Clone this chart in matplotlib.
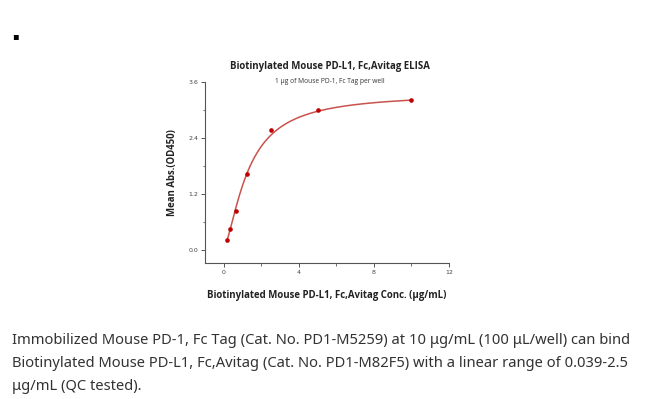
import numpy as np
import matplotlib
matplotlib.use('Agg')
import matplotlib.pyplot as plt
from matplotlib.ticker import MultipleLocator

# data
conc = [0.156, 0.3125, 0.625, 1.25, 2.5, 5.0, 10.0]        # ug/mL
od450 = [0.21, 0.44, 0.83, 1.62, 2.56, 3.00, 3.20]          # mean abs

# 4PL fit parameters (bottom, top, EC50, hill) estimated from the drawn curve
fit_bottom, fit_top, fit_ec50, fit_hill = 0.05, 3.35, 1.3, 1.5

title = 'Biotinylated Mouse PD-L1, Fc,Avitag ELISA'
subtitle = '1 \u03bcg of Mouse PD-1, Fc Tag per well'
xlab = 'Biotinylated Mouse PD-L1, Fc,Avitag Conc. (\u03bcg/mL)'
ylab = 'Mean Abs.(OD450)'
caption = ['Immobilized Mouse PD-1, Fc Tag (Cat. No. PD1-M5259) at 10 \u03bcg/mL (100 \u03bcL/well) can bind',
           'Biotinylated Mouse PD-L1, Fc,Avitag (Cat. No. PD1-M82F5) with a linear range of 0.039-2.5',
           '\u03bcg/mL (QC tested).']

fig = plt.figure(figsize=(6.5, 3.99), dpi=100)
ax = fig.add_axes([205/650, 1-262.7/399, 244/650, (262.7-81.5)/399])

xs = np.linspace(conc[0], conc[-1], 300)
fit = fit_top + (fit_bottom - fit_top) / (1 + (xs / fit_ec50) ** fit_hill)
ax.plot(xs, fit, color='#c9534c', lw=1.1)
ax.plot(conc, od450, 'o', color='#c00000', ms=2.3, mec='#c00000')

ax.set_xlim(-1, 12)
ax.set_ylim(-0.27, 3.6)
ax.set_xticks([0, 4, 8, 12])
ax.set_yticks([0.0, 1.2, 2.4, 3.6])
ax.set_yticklabels(['0.0', '1.2', '2.4', '3.6'])
ax.xaxis.set_minor_locator(MultipleLocator(2))
ax.yaxis.set_minor_locator(MultipleLocator(0.6))
for s in ['top', 'right']:
    ax.spines[s].set_visible(False)
for s in ['left', 'bottom']:
    ax.spines[s].set_color('#555555')
    ax.spines[s].set_linewidth(0.8)
ax.tick_params(which='major', length=3, width=0.7, color='#555555', labelsize=4.5,
               labelcolor='#444444', pad=2)
ax.tick_params(which='minor', length=1.8, width=0.6, color='#555555')

ax.set_xlabel(xlab, fontsize=6.9, fontweight='bold', family='Open Sans', color='#222222', labelpad=11)
ax.set_ylabel(ylab, fontsize=6.9, fontweight='bold', family='Open Sans', color='#222222', labelpad=7)

fig.text(330/650, 1-66/399, title, ha='center', va='center', fontsize=6.9,
         fontweight='bold', family='Open Sans', color='#222222')
fig.text(330/650, 1-81.5/399, subtitle, ha='center', va='center', fontsize=4.8,
         family='Open Sans', color='#333333')

fig.text(15/650, 1-36/399, '\u25aa', ha='center', va='center', fontsize=7, color='black')

for i, line in enumerate(caption):
    fig.text(12/650, 1-(341+22.8*i)/399, line, ha='left', va='center', fontsize=10.6,
             family='Noto Sans', color='#333333')

fig.savefig('out.png', dpi=100)
